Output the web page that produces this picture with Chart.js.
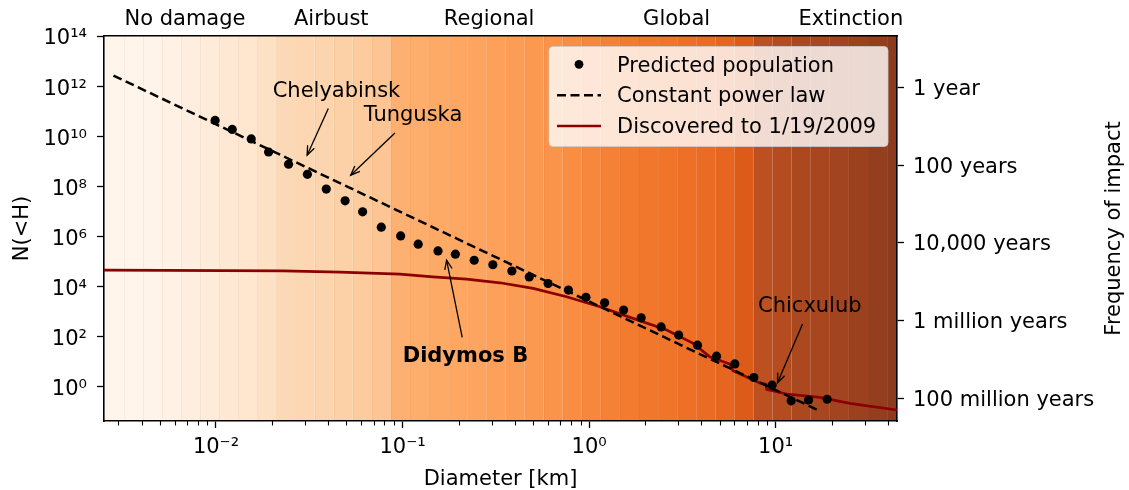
<!DOCTYPE html>
<html>
<head>
<meta charset="utf-8">
<script src="https://cdn.jsdelivr.net/npm/chart.js@4.4.1/dist/chart.umd.min.js"></script>
<style>
  html, body { margin: 0; padding: 0; background: #ffffff; }
  #wrap { width: 1129px; height: 490px; }
</style>
</head>
<body>
<div id="wrap"><canvas id="c" width="1129" height="490"></canvas></div>
<script>
const FONT = 'DejaVu Sans';

// Predicted near-Earth asteroid population: cumulative count vs diameter (km)
const predictedDiameter = [0.00989, 0.01222, 0.01545, 0.01914, 0.02449, 0.0309, 0.0390, 0.0492, 0.0611, 0.0769,
  0.0977, 0.1213, 0.1549, 0.1919, 0.2421, 0.3048, 0.3855, 0.4775, 0.6026, 0.7745,
  0.9616, 1.211, 1.531, 1.901, 2.432, 3.020, 3.811, 4.819, 6.039, 7.638,
  9.572, 12.11, 15.00, 18.88];
const predictedCount = [4.27e10, 1.86e10, 7.76e9, 2.34e9, 7.59e8, 3.02e8, 7.76e7, 2.63e7, 9.55e6, 2.34e6,
  1.05e6, 4.90e5, 2.63e5, 1.95e5, 1.12e5, 7.41e4, 4.17e4, 2.40e4, 1.32e4, 7.24e3,
  3.72e3, 2.24e3, 1.15e3, 562, 245, 115, 45.7, 16.6, 8.13, 2.34,
  1.15, 0.275, 0.295, 0.316];

// Constant power law (straight line in log-log space)
const powerLawDiameter = [0.00282, 17.26];
const powerLawCount = [2.63e12, 0.107];

// Objects discovered up to 1/19/2009
const discoveredDiameter = [0.00251, 0.02286, 0.0462, 0.0968, 0.1455, 0.2203, 0.3327, 0.5012, 0.7568, 1.143,
  1.718, 2.606, 3.614, 4.436, 5.675, 5.910, 8.22, 8.85, 8.95, 11.43, 17.25, 25.0, 44.7];
const discoveredCount = [4.52e4, 4.24e4, 3.76e4, 3.13e4, 2.44e4, 1.98e4, 1.41e4, 8.41e3, 3.89e3, 1.55e3,
  535, 183, 53.8, 15.7, 8.04, 4.35, 1.41, 1.28, 0.787, 0.512, 0.378, 0.218, 0.118];

// Impact-severity shading: band edges (km) and fill colours
const bandEdges = [0.00253, 0.00320, 0.00405, 0.00513, 0.00649, 0.00821, 0.01039, 0.01315, 0.01665, 0.02107,
  0.02667, 0.03375, 0.04272, 0.05407, 0.06843, 0.08660, 0.1096, 0.1387, 0.1756, 0.2222,
  0.2812, 0.3559, 0.4504, 0.5700, 0.7214, 0.9131, 1.156, 1.463, 1.851, 2.343,
  2.965, 3.752, 4.749, 6.010, 7.606, 9.627, 12.18, 15.42, 19.52, 24.70,
  31.26, 39.56, 50.07];
const bandColors = ['#fff5eb', '#fff5eb', '#fff4e9', '#fff2e5', '#feeedf', '#feebd9', '#fee8d3', '#fee6cf', '#fde1c4', '#fcd9b6',
  '#fcd7b2', '#fcd4ad', '#fcd1a7', '#fccc9e', '#fcc593', '#fdb072', '#fdad6c', '#fdaa67', '#fda763', '#fca460',
  '#fca05a', '#fc9d55', '#fb9950', '#fa944a', '#f98d42', '#f7873c', '#f58136', '#f37b30', '#f1772c', '#f0742a',
  '#ee7027', '#ea6b23', '#e6661f', '#dc5b19', '#bc5020', '#b44c1f', '#ac481f', '#a7461f', '#a2441f', '#9b411e',
  '#943e1e', '#8c3b1e'];

// Axis ticks and labels
const xTickValues = [0.01, 0.1, 1, 10];
const xTickLabels = ['10\u207B\u00B2', '10\u207B\u00B9', '10\u2070', '10\u00B9'];
const yTickValues = [1, 1e2, 1e4, 1e6, 1e8, 1e10, 1e12, 1e14];
const yTickLabels = ['10\u2070', '10\u00B2', '10\u2074', '10\u2076', '10\u2078', '10\u00B9\u2070', '10\u00B9\u00B2', '10\u00B9\u2074'];
const freqTickValues = [1, 100, 1e4, 1e6, 1e8];
const freqTickLabels = ['1 year', '100 years', '10,000 years', '1 million years', '100 million years'];

// Damage classes across the top
const zoneCenters = [0.00682, 0.04148, 0.2911, 2.944, 25.29];
const zoneLabels = ['No damage', 'Airbust', 'Regional', 'Global', 'Extinction'];

// Named impactors: label baseline position, arrow tail and arrow tip (diameter km, count)
const annotationLabels = ['Chelyabinsk', 'Tunguska', 'Didymos B', 'Chicxulub'];
const annotationBold = [false, false, true, false];
const annotationTextAt = [[0.04423, 3.70e11], [0.1138, 3.96e10], [0.2173, 9.94], [15.24, 981]];
const annotationTail = [[0.0400, 1.27e11], [0.0910, 1.35e10], [0.2088, 93.4], [13.93, 317]];
const annotationTip = [[0.0308, 1.75e9], [0.0527, 2.78e8], [0.1722, 1.13e5], [10.23, 1.44]];

const xMin = 0.00251, xMax = 44.7;
const yMin = 0.0429, yMax = 1e14;
const freqMin = 0.0471, freqMax = 3.84e8;

const toPoints = (xs, ys) => xs.map((v, i) => ({ x: v, y: ys[i] }));

const bandsPlugin = {
  id: 'bands',
  beforeDraw(chart) {
    const { ctx, chartArea: a, scales: { x } } = chart;
    ctx.save();
    ctx.beginPath();
    ctx.rect(a.left, a.top, a.right - a.left, a.bottom - a.top);
    ctx.clip();
    for (let i = 0; i < bandColors.length; i++) {
      const x0 = x.getPixelForValue(bandEdges[i]);
      const x1 = x.getPixelForValue(bandEdges[i + 1]);
      ctx.fillStyle = bandColors[i];
      ctx.fillRect(x0, a.top, x1 - x0, a.bottom - a.top);
    }
    // faint seams between neighbouring bands
    ctx.strokeStyle = 'rgba(160,60,0,0.06)';
    ctx.lineWidth = 1;
    for (let i = 1; i < bandColors.length; i++) {
      const xe = Math.round(x.getPixelForValue(bandEdges[i])) + 0.5;
      ctx.beginPath();
      ctx.moveTo(xe, a.top);
      ctx.lineTo(xe, a.bottom);
      ctx.stroke();
    }
    ctx.restore();
  }
};

function drawArrow(ctx, x0, y0, x1, y1) {
  ctx.beginPath();
  ctx.moveTo(x0, y0);
  ctx.lineTo(x1, y1);
  ctx.stroke();
  const ang = Math.atan2(y1 - y0, x1 - x0);
  const len = 10, spread = 0.38;
  ctx.beginPath();
  ctx.moveTo(x1 - len * Math.cos(ang - spread), y1 - len * Math.sin(ang - spread));
  ctx.lineTo(x1, y1);
  ctx.lineTo(x1 - len * Math.cos(ang + spread), y1 - len * Math.sin(ang + spread));
  ctx.stroke();
}

function roundRect(ctx, x, y, w, h, r) {
  ctx.beginPath();
  ctx.moveTo(x + r, y);
  ctx.lineTo(x + w - r, y);
  ctx.arcTo(x + w, y, x + w, y + r, r);
  ctx.lineTo(x + w, y + h - r);
  ctx.arcTo(x + w, y + h, x + w - r, y + h, r);
  ctx.lineTo(x + r, y + h);
  ctx.arcTo(x, y + h, x, y + h - r, r);
  ctx.lineTo(x, y + r);
  ctx.arcTo(x, y, x + r, y, r);
  ctx.closePath();
}

const overlayPlugin = {
  id: 'overlay',
  afterDraw(chart) {
    const { ctx, chartArea: a, scales: { x, y } } = chart;
    ctx.save();

    // minor ticks on the diameter axis
    ctx.strokeStyle = '#000';
    ctx.lineWidth = 1.1;
    for (let d = 0.001; d < 100; d *= 10) {
      for (let m = 2; m <= 9; m++) {
        const v = m * d;
        if (v <= xMin || v >= xMax) continue;
        const px = Math.round(x.getPixelForValue(v)) + 0.5;
        ctx.beginPath();
        ctx.moveTo(px, a.bottom);
        ctx.lineTo(px, a.bottom + 4.5);
        ctx.stroke();
      }
    }

    // annotations with arrows
    ctx.fillStyle = '#000';
    ctx.textAlign = 'center';
    ctx.textBaseline = 'alphabetic';
    ctx.lineWidth = 1.3;
    ctx.lineCap = 'butt';
    for (let i = 0; i < annotationLabels.length; i++) {
      ctx.font = (annotationBold[i] ? 'bold ' : '') + '21px "' + FONT + '"';
      ctx.fillText(annotationLabels[i],
        x.getPixelForValue(annotationTextAt[i][0]), y.getPixelForValue(annotationTextAt[i][1]));
      drawArrow(ctx,
        x.getPixelForValue(annotationTail[i][0]), y.getPixelForValue(annotationTail[i][1]),
        x.getPixelForValue(annotationTip[i][0]), y.getPixelForValue(annotationTip[i][1]));
    }

    // damage classes above the frame
    ctx.font = '21px "' + FONT + '"';
    for (let i = 0; i < zoneLabels.length; i++) {
      ctx.fillText(zoneLabels[i], x.getPixelForValue(zoneCenters[i]), 25);
    }

    // axis titles
    ctx.fillText('Diameter [km]', (a.left + a.right) / 2, 485);
    ctx.save();
    ctx.translate(27.5, (a.top + a.bottom) / 2);
    ctx.rotate(-Math.PI / 2);
    ctx.fillText('N(<H)', 0, 0);
    ctx.restore();
    ctx.save();
    ctx.translate(1120, (a.top + a.bottom) / 2);
    ctx.rotate(-Math.PI / 2);
    ctx.fillText('Frequency of impact', 0, 0);
    ctx.restore();

    // legend
    const lx = 549, ly = 46.5, lw = 339, lh = 100;
    roundRect(ctx, lx, ly, lw, lh, 4);
    ctx.fillStyle = 'rgba(255,255,255,0.8)';
    ctx.fill();
    ctx.strokeStyle = 'rgba(204,204,204,0.8)';
    ctx.lineWidth = 1;
    ctx.stroke();

    const rows = [64.3, 95.3, 126];
    const baselines = [71.7, 102.3, 132.7];
    ctx.fillStyle = '#000';
    ctx.beginPath();
    ctx.arc(579, rows[0], 4.4, 0, Math.PI * 2);
    ctx.fill();
    ctx.strokeStyle = '#000';
    ctx.lineWidth = 2.5;
    ctx.setLineDash([9, 4.5]);
    ctx.beginPath();
    ctx.moveTo(557, rows[1]);
    ctx.lineTo(601, rows[1]);
    ctx.stroke();
    ctx.setLineDash([]);
    ctx.strokeStyle = '#8b0000';
    ctx.lineWidth = 2.7;
    ctx.beginPath();
    ctx.moveTo(557, rows[2]);
    ctx.lineTo(601, rows[2]);
    ctx.stroke();

    ctx.fillStyle = '#000';
    ctx.textAlign = 'left';
    const names = chart.data.datasets.map(d => d.label);
    for (let i = 0; i < names.length; i++) {
      ctx.fillText(names[i], 617, baselines[i]);
    }
    ctx.restore();
  }
};

const tickFont = { family: FONT, size: 21 };

new Chart(document.getElementById('c'), {
  type: 'scatter',
  data: {
    datasets: [
      {
        label: 'Predicted population',
        data: toPoints(predictedDiameter, predictedCount),
        showLine: false,
        pointRadius: 4.6,
        pointBackgroundColor: '#000',
        pointBorderWidth: 0,
        order: 0
      },
      {
        label: 'Constant power law',
        data: toPoints(powerLawDiameter, powerLawCount),
        showLine: true,
        borderColor: '#000',
        borderWidth: 2.5,
        borderDash: [9, 4.5],
        pointRadius: 0,
        tension: 0,
        order: 1
      },
      {
        label: 'Discovered to 1/19/2009',
        data: toPoints(discoveredDiameter, discoveredCount),
        showLine: true,
        borderColor: '#8b0000',
        borderWidth: 2.7,
        pointRadius: 0,
        tension: 0,
        order: 2
      }
    ]
  },
  options: {
    responsive: false,
    animation: false,
    devicePixelRatio: 1,
    layout: { padding: 0 },
    plugins: { legend: { display: false }, tooltip: { enabled: false } },
    scales: {
      x: {
        type: 'logarithmic', position: 'bottom', min: xMin, max: xMax,
        afterBuildTicks: s => { s.ticks = xTickValues.map(v => ({ value: v, major: true })); },
        afterFit: s => { s.height = 69; },
        ticks: { callback: (v, i) => xTickLabels[i], font: tickFont, color: '#000', padding: 7, autoSkip: false, maxRotation: 0 },
        grid: { drawOnChartArea: false, tickLength: 7, tickColor: '#000', tickWidth: 1.3 },
        border: { display: true, color: '#000', width: 1.6 }
      },
      xTop: {
        axis: 'x', type: 'logarithmic', position: 'top', min: xMin, max: xMax,
        afterFit: s => { s.height = 36; },
        ticks: { display: false },
        grid: { display: false },
        border: { display: true, color: '#000', width: 1.6 }
      },
      y: {
        type: 'logarithmic', position: 'left', min: yMin, max: yMax,
        afterBuildTicks: s => { s.ticks = yTickValues.map(v => ({ value: v, major: true })); },
        afterFit: s => { s.width = 104; },
        ticks: { callback: (v, i) => yTickLabels[i], font: tickFont, color: '#000', padding: 10, autoSkip: false, labelOffset: 3 },
        grid: { drawOnChartArea: false, tickLength: 7, tickColor: '#000', tickWidth: 1.3 },
        border: { display: true, color: '#000', width: 1.6 }
      },
      y2: {
        axis: 'y', type: 'logarithmic', position: 'right', reverse: true, min: freqMin, max: freqMax,
        afterBuildTicks: s => { s.ticks = freqTickValues.map(v => ({ value: v, major: true })); },
        afterFit: s => { s.width = 232; },
        ticks: { callback: (v, i) => freqTickLabels[i], font: tickFont, color: '#000', padding: 9, autoSkip: false, labelOffset: 2 },
        grid: { drawOnChartArea: false, tickLength: 7, tickColor: '#000', tickWidth: 1.3 },
        border: { display: true, color: '#000', width: 1.6 }
      }
    }
  },
  plugins: [bandsPlugin, overlayPlugin]
});
</script>
</body>
</html>
